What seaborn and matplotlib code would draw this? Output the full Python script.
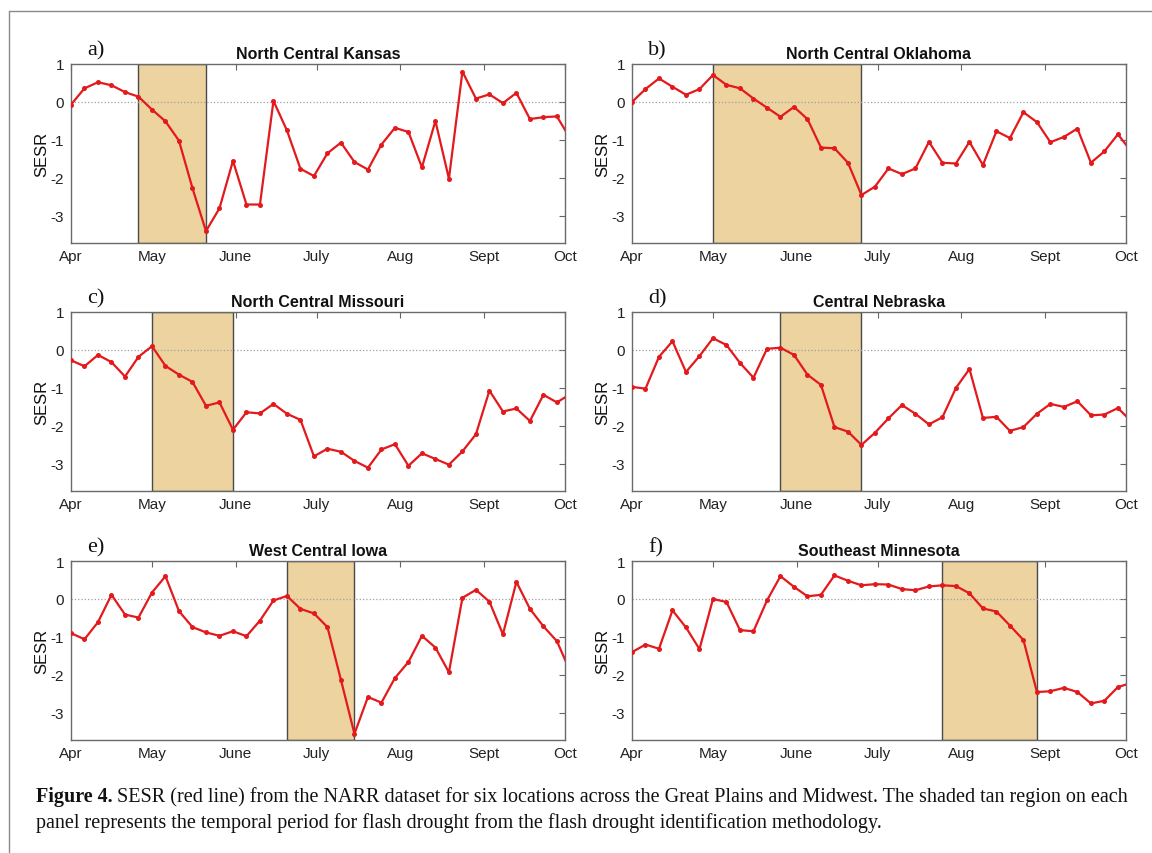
import numpy as np
import pandas as pd
import matplotlib
matplotlib.use('Agg')
import matplotlib.pyplot as plt
from matplotlib.lines import Line2D
import seaborn as sns

# SESR at 5-day steps from Apr 1 (last value sits just past Oct 1 and is clipped)
kansas = [-0.07, 0.36, 0.52, 0.44, 0.26, 0.14, -0.20, -0.51, -1.02, -2.27,
          -3.40, -2.80, -1.55, -2.70, -2.70, 0.03, -0.75, -1.76, -1.95, -1.35,
          -1.07, -1.58, -1.78, -1.12, -0.68, -0.79, -1.72, -0.50, -2.02, 0.80,
          0.09, 0.20, -0.03, 0.24, -0.45, -0.40, -0.38, -0.97]
oklahoma = [0.00, 0.34, 0.62, 0.40, 0.19, 0.34, 0.71, 0.45, 0.36, 0.09,
            -0.15, -0.39, -0.13, -0.45, -1.20, -1.22, -1.60, -2.45, -2.23, -1.75,
            -1.90, -1.75, -1.05, -1.60, -1.62, -1.05, -1.66, -0.77, -0.95, -0.27,
            -0.53, -1.06, -0.92, -0.70, -1.60, -1.30, -0.85, -1.31]
missouri = [-0.27, -0.43, -0.13, -0.32, -0.70, -0.18, 0.10, -0.42, -0.65, -0.84,
            -1.47, -1.38, -2.10, -1.64, -1.67, -1.42, -1.68, -1.84, -2.80, -2.60,
            -2.68, -2.92, -3.10, -2.62, -2.48, -3.05, -2.72, -2.87, -3.02, -2.67,
            -2.22, -1.07, -1.62, -1.54, -1.87, -1.18, -1.38, -1.16]
nebraska = [-0.97, -1.02, -0.18, 0.23, -0.58, -0.16, 0.31, 0.13, -0.34, -0.73,
            0.03, 0.06, -0.13, -0.65, -0.92, -2.03, -2.15, -2.50, -2.18, -1.80,
            -1.45, -1.68, -1.96, -1.77, -1.00, -0.50, -1.79, -1.76, -2.13, -2.03,
            -1.68, -1.42, -1.50, -1.35, -1.72, -1.70, -1.53, -1.88]
iowa = [-0.90, -1.06, -0.61, 0.11, -0.41, -0.49, 0.17, 0.60, -0.32, -0.74,
        -0.88, -0.97, -0.85, -0.98, -0.57, -0.04, 0.08, -0.26, -0.38, -0.74,
        -2.13, -3.55, -2.58, -2.73, -2.08, -1.66, -0.97, -1.28, -1.93, 0.03,
        0.24, -0.07, -0.93, 0.45, -0.26, -0.72, -1.11, -1.92]
minnesota = [-1.40, -1.20, -1.31, -0.30, -0.75, -1.32, 0.00, -0.08, -0.82, -0.85,
             -0.04, 0.60, 0.32, 0.07, 0.11, 0.62, 0.48, 0.36, 0.39, 0.38,
             0.26, 0.23, 0.33, 0.36, 0.34, 0.15, -0.25, -0.33, -0.70, -1.08,
             -2.45, -2.43, -2.34, -2.45, -2.75, -2.68, -2.32, -2.21]

series = [kansas, oklahoma, missouri, nebraska, iowa, minnesota]
titles = ['North Central Kansas', 'North Central Oklahoma', 'North Central Missouri',
          'Central Nebraska', 'West Central Iowa', 'Southeast Minnesota']
letters = ['a)', 'b)', 'c)', 'd)', 'e)', 'f)']
# flash drought period: (first, last) pentad index
spans = [(5, 10), (6, 17), (6, 12), (11, 17), (16, 21), (23, 30)]

month_starts = ['2012-04-01', '2012-05-01', '2012-06-01', '2012-07-01',
                '2012-08-01', '2012-09-01', '2012-10-01']
month_labels = ['Apr', 'May', 'June', 'July', 'Aug', 'Sept', 'Oct']

sns.set_theme(style='white')
plt.rcParams['font.family'] = ['Liberation Sans', 'DejaVu Sans']
plt.rcParams['axes.unicode_minus'] = False

W, H = 1152, 854
fig = plt.figure(figsize=(W / 100, H / 100), dpi=100)
fig.patch.set_facecolor('white')

col_left = [71, 632]
row_top = [65, 313, 562]
ax_w, ax_h = 494, 178.5

dates = pd.date_range('2012-04-01', periods=len(kansas), freq='5D')
ticks = pd.to_datetime(month_starts)

for i, (vals, title, letter, span) in enumerate(zip(series, titles, letters, spans)):
    r, c = divmod(i, 2)
    ax = fig.add_axes([col_left[c] / W, 1 - (row_top[r] + ax_h) / H, ax_w / W, ax_h / H])
    ax.axvspan(dates[span[0]], dates[span[1]], facecolor='#ECD39F',
               edgecolor='#4a4a4a', lw=1.0, zorder=1)
    ax.axhline(0, color='#a0a0a0', ls=':', lw=0.9, zorder=2)
    sns.lineplot(x=dates, y=vals, ax=ax, color='#E3191C', lw=1.6, marker='o',
                 markersize=3.6, markeredgewidth=0, zorder=3)
    ax.set_xlim(ticks[0], ticks[-1])
    ax.set_ylim(-3.7, 1)
    ax.set_yticks([1, 0, -1, -2, -3])
    ax.set_xticks(ticks)
    ax.set_xticklabels(month_labels)
    ax.set_xlabel('')
    ax.set_ylabel('SESR', fontsize=12, color='#111', labelpad=1)
    ax.set_title(title, fontweight='bold', fontsize=11.5, pad=4, color='#111')
    ax.text(0.032, 1.078, letter, transform=ax.transAxes, va='center', ha='left',
            fontsize=16, family=['Liberation Serif', 'DejaVu Serif'], color='#111')
    ax.tick_params(direction='in', top=True, right=True, length=4, width=0.8,
                   color='#666', labelsize=11, labelcolor='#222', pad=5)
    for s in ax.spines.values():
        s.set_color('#6a6a6a')
        s.set_linewidth(1.0)

# figure frame (left and top edges visible)
fig.add_artist(Line2D([9 / W, 9 / W], [0, 1 - 12 / H], transform=fig.transFigure,
                      color='#8a8a8a', lw=1))
fig.add_artist(Line2D([9 / W, 1], [1 - 12 / H, 1 - 12 / H], transform=fig.transFigure,
                      color='#8a8a8a', lw=1))

serif = ['Liberation Serif', 'DejaVu Serif']
cap_size = 14.5
t = fig.text(36 / W, 1 - 797 / H, 'Figure 4.', fontweight='bold', family=serif,
             fontsize=cap_size, va='center', color='#111')
renderer = fig.canvas.get_renderer()
bb = t.get_window_extent(renderer)
fig.text(bb.x1 / W + 4 / W, 1 - 797 / H,
         'SESR (red line) from the NARR dataset for six locations across the Great Plains '
         'and Midwest. The shaded tan region on each',
         family=serif, fontsize=cap_size, va='center', color='#111')
fig.text(36 / W, 1 - 823 / H,
         'panel represents the temporal period for flash drought from the flash drought '
         'identification methodology.',
         family=serif, fontsize=cap_size, va='center', color='#111')

fig.savefig('out.png', dpi=100, facecolor='white')
